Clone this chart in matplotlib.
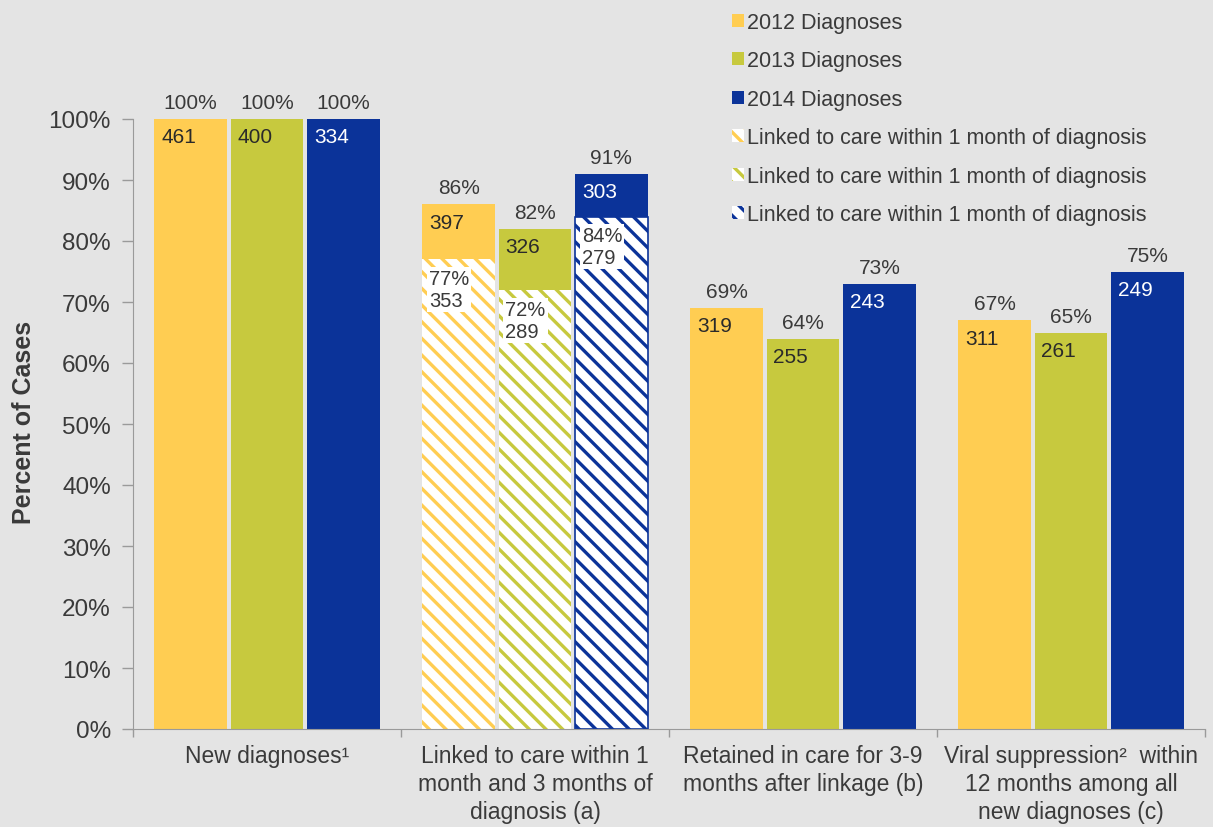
import matplotlib
matplotlib.use("Agg")
import matplotlib.pyplot as plt
from matplotlib.patches import Patch
import matplotlib.transforms as mtransforms

# ---- data -------------------------------------------------------------
categories = [
    "New diagnoses\u00b9",
    "Linked to care within 1\nmonth and 3 months of\ndiagnosis (a)",
    "Retained in care for 3-9\nmonths after linkage (b)",
    "Viral suppression\u00b2  within\n12 months among all\nnew diagnoses (c)",
]
years = ["2012 Diagnoses", "2013 Diagnoses", "2014 Diagnoses"]

pct_2012 = [100, 86, 69, 67]
pct_2013 = [100, 82, 64, 65]
pct_2014 = [100, 91, 73, 75]
n_2012 = [461, 397, 319, 311]
n_2013 = [400, 326, 255, 261]
n_2014 = [334, 303, 243, 249]

# linked to care within 1 month (second group only)
link1_pct = [77, 72, 84]
link1_n = [353, 289, 279]
link_label = "Linked to care within 1 month of diagnosis"

yticks = list(range(0, 101, 10))

# ---- style ------------------------------------------------------------
colors = ["#FFCD52", "#C7C93E", "#0B3399"]
count_colors = ["#2a2a2a", "#2a2a2a", "white"]
bg = "#E4E4E4"
txt = "#3a3a3a"
hatch = "\\\\"
plt.rcParams["font.family"] = ["Liberation Sans", "DejaVu Sans"]
plt.rcParams["hatch.linewidth"] = 2.4

fig = plt.figure(figsize=(12.13, 8.28), dpi=100, facecolor=bg)
ax = fig.add_axes([133 / 1213, 1 - 730 / 828, 1072 / 1213, 610 / 828])
ax.set_facecolor(bg)

pcts = [pct_2012, pct_2013, pct_2014]
counts = [n_2012, n_2013, n_2014]
offsets = [-0.285, 0.0, 0.285]
width = 0.272
centers = [i + 0.5 for i in range(len(categories))]

for s in range(3):
    for g, c in enumerate(centers):
        x = c + offsets[s]
        h = pcts[s][g]
        if g == 1:
            lo = link1_pct[s]
            ax.bar(x, lo, width, color="white", edgecolor=colors[s],
                   hatch=hatch, linewidth=0 if s < 2 else 1.2)
            ax.bar(x, h - lo, width, bottom=lo, color=colors[s], linewidth=0)
            ax.annotate(f"{lo}%\n{link1_n[s]}", (x - width / 2, lo),
                        xytext=(5, -7), textcoords="offset points",
                        ha="left", va="top", fontsize=14.5, color=txt,
                        linespacing=1.2,
                        bbox=dict(facecolor="white", edgecolor="none", pad=1.5))
        else:
            ax.bar(x, h, width, color=colors[s], linewidth=0)
        ax.annotate(f"{h}%", (x, h), xytext=(0, 5), textcoords="offset points",
                    ha="center", va="bottom", fontsize=15, color=txt)
        ax.annotate(f"{counts[s][g]}", (x - width / 2, h), xytext=(5, -6),
                    textcoords="offset points", ha="left", va="top",
                    fontsize=15, color=count_colors[s])

# ---- axes -------------------------------------------------------------
ax.set_xlim(0, len(categories))
ax.set_ylim(0, 100)
ax.set_yticks(yticks)
ax.set_yticklabels([f"{v}%" for v in yticks], fontsize=17.5, color=txt)
ax.set_xticks(range(len(categories) + 1))
ax.set_xticklabels([])
ax.tick_params(axis="y", length=8, color="#9a9a9a", width=1, pad=8)
ax.tick_params(axis="x", length=6, color="#9a9a9a", width=1)
for side in ["top", "right"]:
    ax.spines[side].set_visible(False)
for side in ["left", "bottom"]:
    ax.spines[side].set_color("#9a9a9a")

trans = mtransforms.blended_transform_factory(ax.transData, ax.transAxes)
for c, lab in zip(centers, categories):
    ax.text(c, -0.024, lab, transform=trans, ha="center", va="top",
            fontsize=16.5, color=txt, linespacing=1.3)

fig.text(24 / 1213, 1 - 422 / 828, "Percent of Cases", rotation=90,
         ha="center", va="center", fontsize=18, fontweight="bold", color=txt)

# ---- legend -----------------------------------------------------------
handles = [Patch(facecolor=c, edgecolor="none") for c in colors]
handles += [Patch(facecolor="white", edgecolor=c, hatch=hatch, linewidth=0)
            for c in colors]
labels = years + [link_label] * 3
fig.legend(handles, labels, loc="upper left",
           bbox_to_anchor=(719 / 1213, 1.0), frameon=False,
           fontsize=15.5, labelcolor=txt, handlelength=0.55, handleheight=0.55,
           handletextpad=0.15, labelspacing=0.81, borderpad=0.1)

fig.savefig("out.png", dpi=100, facecolor=bg)
